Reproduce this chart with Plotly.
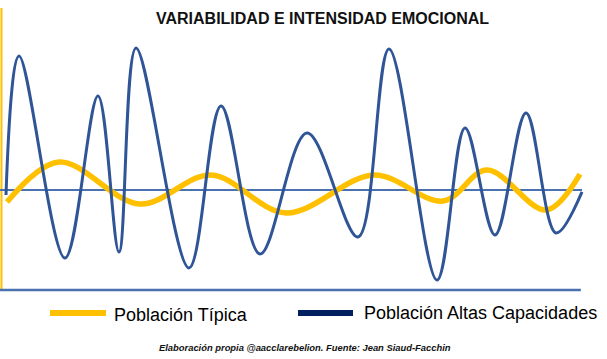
import plotly.graph_objects as go

# Time axis (0-100) and emotional intensity around a neutral baseline (0)
t_altas = [0.0, 2.26, 10.24, 15.97, 19.62, 22.57, 31.77, 37.33, 44.10, 52.26,
           61.11, 66.49, 74.83, 79.69, 84.90, 90.28, 95.49, 100.0]
v_altas = [-0.36, 9.57, -4.86, 6.71, -4.43, 10.14, -5.57, 6.00, -4.57, 4.07,
           -3.36, 10.07, -6.43, 4.43, -3.21, 5.50, -3.07, -0.14]

t_tipica = [0.17, 9.20, 23.26, 35.59, 48.61, 63.89, 75.87, 83.51, 93.75, 99.65]
v_tipica = [-0.86, 2.00, -1.00, 1.07, -1.64, 1.07, -0.79, 1.43, -1.43, 1.14]

baseline = 0.0
floor_level = -7.14

title = "VARIABILIDAD E INTENSIDAD EMOCIONAL"
legend_labels = ["Población Típica", "Población Altas Capacidades"]
footer = "Elaboración propia @aacclarebelion. Fuente: Jean Siaud-Facchin"

YELLOW = "#FFC000"
BLUE = "#2F5597"
AXIS_BLUE = "#4A72B0"
NAVY = "#002060"

W, H = 607, 359
x_range = [-1.04, 104.34]
y_range = [-12.07, 13.57]

fig = go.Figure()
fig.add_trace(go.Scatter(x=t_tipica, y=v_tipica, mode="lines",
                         line=dict(color=YELLOW, width=5.5, shape="spline", smoothing=1.0),
                         name=legend_labels[0], showlegend=False, hoverinfo="skip"))
fig.add_trace(go.Scatter(x=t_altas, y=v_altas, mode="lines",
                         line=dict(color=BLUE, width=3, shape="spline", smoothing=1.0),
                         name=legend_labels[1], showlegend=False, hoverinfo="skip"))

# baseline and floor lines
fig.add_shape(type="line", xref="x", yref="y", x0=x_range[0], x1=100.0,
              y0=baseline, y1=baseline, line=dict(color=AXIS_BLUE, width=2), layer="below")
fig.add_shape(type="line", xref="x", yref="y", x0=x_range[0], x1=99.8,
              y0=floor_level, y1=floor_level, line=dict(color=AXIS_BLUE, width=2.5), layer="below")
# left yellow axis
fig.add_shape(type="line", xref="paper", yref="paper", x0=1.5 / W, x1=1.5 / W,
              y0=1 - 8 / H, y1=1 - 290 / H, line=dict(color=YELLOW, width=2), layer="below")

# manual legend
fig.add_shape(type="line", xref="paper", yref="paper", x0=50 / W, x1=106 / W,
              y0=1 - 313 / H, y1=1 - 313 / H, line=dict(color=YELLOW, width=6))
fig.add_shape(type="line", xref="paper", yref="paper", x0=298 / W, x1=353 / W,
              y0=1 - 313 / H, y1=1 - 313 / H, line=dict(color=NAVY, width=6))
fig.add_annotation(xref="paper", yref="paper", x=112 / W, y=1 - 315 / H,
                   text=legend_labels[0], showarrow=False, xanchor="left", yanchor="middle",
                   font=dict(family="Liberation Sans, Arial", size=18, color="#000"))
fig.add_annotation(xref="paper", yref="paper", x=362 / W, y=1 - 313 / H,
                   text=legend_labels[1], showarrow=False, xanchor="left", yanchor="middle",
                   font=dict(family="Liberation Sans, Arial", size=18, color="#000"))

# title and footer
fig.add_annotation(xref="paper", yref="paper", x=322 / W, y=1 - 18 / H,
                   text="<b>" + title + "</b>", showarrow=False, xanchor="center", yanchor="middle",
                   font=dict(family="Liberation Sans, Arial", size=16, color="#111"))
fig.add_annotation(xref="paper", yref="paper", x=305 / W, y=1 - 347 / H,
                   text="<b><i>" + footer + "</i></b>", showarrow=False, xanchor="center", yanchor="middle",
                   font=dict(family="Liberation Sans, Arial", size=9.4, color="#111"))

fig.update_layout(
    width=W, height=H,
    margin=dict(l=0, r=0, t=0, b=0),
    paper_bgcolor="white", plot_bgcolor="white",
    xaxis=dict(range=x_range, visible=False, fixedrange=True),
    yaxis=dict(range=y_range, visible=False, fixedrange=True),
    showlegend=False,
)

fig.write_html("out.html", config={"displayModeBar": False},
               post_script="document.body.style.margin='0';document.body.style.padding='0';document.body.style.overflow='hidden';")
